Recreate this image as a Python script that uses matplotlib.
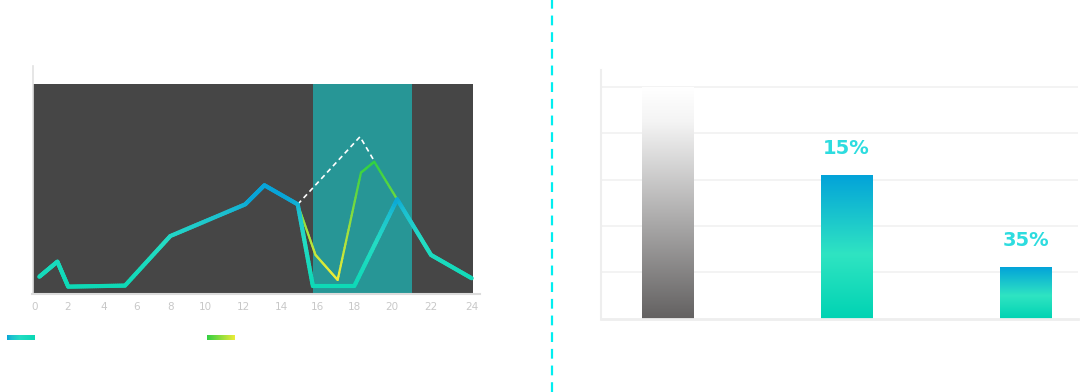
import numpy as np
import matplotlib
matplotlib.use("Agg")
import matplotlib.pyplot as plt
from matplotlib.collections import LineCollection
from matplotlib.colors import LinearSegmentedColormap, Normalize
from matplotlib.patches import Rectangle
from matplotlib.lines import Line2D

# --- left chart data (hours vs. level) ---
main_hours = [0.3, 1.4, 2.05, 5.3, 8.0, 12.1, 13.1, 14.9, 15.75, 18.0, 20.25, 22.0, 24.0]
main_level = [8.2, 15.4, 3.5, 4.0, 27.6, 42.7, 51.8, 42.7, 3.8, 3.8, 45.1, 18.6, 7.5]
alt_hours = [14.9, 15.9, 17.1, 18.35, 19.05, 20.25]
alt_level = [42.7, 18.6, 6.7, 57.8, 63.0, 45.1]
proj_hours = [14.9, 18.3, 19.0]
proj_level = [42.7, 74.9, 64.1]
band_start, band_end = 15.75, 21.0
tick_hours = list(range(0, 25, 2))

# --- right chart data ---
bar_values = [100, 62, 22.4]
bar_labels = ["", "15%", "35%"]

# the hour axis in the source is not evenly spaced, these are its tick spacings
tick_px = [34.3, 67.3, 103.3, 136.7, 170.3, 205.3, 243.3, 281.7, 317.3, 354.3, 392.3, 431.0, 471.7]
scale_h = np.array([-2] + tick_hours + [26], dtype=float)
scale_p = np.array([tick_px[0] - 33] + tick_px + [tick_px[-1] + 40])


def fwd(h):
    return np.interp(h, scale_h, scale_p)


def inv(p):
    return np.interp(p, scale_p, scale_h)


def gradient_line(ax, hours, level, cmap, norm, lw, zorder):
    # split each segment so the colour can follow the height
    xs, ys = [], []
    p = fwd(np.array(hours, dtype=float))
    for i in range(len(p) - 1):
        t = np.linspace(0, 1, 30, endpoint=False)
        xs.extend(p[i] + (p[i + 1] - p[i]) * t)
        ys.extend(level[i] + (level[i + 1] - level[i]) * t)
    xs.append(p[-1])
    ys.append(level[-1])
    xs = inv(np.array(xs))
    ys = np.array(ys)
    pts = np.column_stack([xs, ys]).reshape(-1, 1, 2)
    segs = np.concatenate([pts[:-1], pts[1:]], axis=1)
    mids = (ys[:-1] + ys[1:]) / 2
    lc = LineCollection(segs, colors=cmap(norm(mids)), linewidths=lw,
                        capstyle="round", joinstyle="round", zorder=zorder)
    ax.add_collection(lc)


teal_cmap = LinearSegmentedColormap.from_list(
    "teal", [(0, "#0ad8b4"), (0.55, "#24dcc4"), (0.85, "#1cbfd0"), (1, "#08a4d8")])
lime_cmap = LinearSegmentedColormap.from_list("lime", ["#ecec38", "#33d043"])
bar_cmap = LinearSegmentedColormap.from_list("bar", [(0, "#00d3b3"), (0.45, "#2fe4c2"), (1, "#03a3d9")])
grey_cmap = LinearSegmentedColormap.from_list("grey", [(0, "#636161"), (0.85, "#f4f4f4"), (1, "#ffffff")])

fig = plt.figure(figsize=(10.88, 3.92), dpi=100)
W, H = 1088, 392

# ---------------- left chart ----------------
ax = fig.add_axes([32.5 / W, (H - 294) / H, (480 - 32.5) / W, (294 - 66) / H])
ax.set_xscale("function", functions=(fwd, inv))
x_lo, x_hi = inv(32.5), inv(480)
ax.set_xlim(x_lo, x_hi)
ax.set_ylim(0, 108.6)

ax.add_patch(Rectangle((x_lo, 0), inv(473) - x_lo, 100, facecolor="#464646", edgecolor="none", zorder=0))
ax.add_patch(Rectangle((band_start, 0), band_end - band_start, 100, facecolor="#279696",
                       edgecolor="none", zorder=1))

ax.plot(proj_hours, proj_level, color="white", lw=1.2, ls=(0, (3, 2.2)), zorder=3)
gradient_line(ax, alt_hours, alt_level, lime_cmap, Normalize(8, 62), 1.6, 3)
gradient_line(ax, main_hours, main_level, teal_cmap, Normalize(0, 46), 3.0, 4)

ax.set_xticks(tick_hours)
ax.set_xticklabels([str(h) for h in tick_hours])
ax.set_yticks([])
ax.tick_params(axis="x", length=0, pad=6, labelsize=7.5, labelcolor="#c8c8c8")
for side in ["top", "right"]:
    ax.spines[side].set_visible(False)
ax.spines["left"].set_color("#e2e2e2")
ax.spines["left"].set_linewidth(1.2)
ax.spines["bottom"].set_color("#dcdcdc")
ax.spines["bottom"].set_linewidth(1.5)

# legend swatches under the left chart
grad = np.linspace(0, 1, 128).reshape(1, -1)
for x0, cmap in [(7, teal_cmap.reversed()), (207, lime_cmap.reversed())]:
    sw = fig.add_axes([x0 / W, (H - 340) / H, 28 / W, 5 / H])
    sw.imshow(grad, aspect="auto", cmap=cmap)
    sw.axis("off")

# dashed divider
fig.add_artist(Line2D([552 / W, 552 / W], [0, 1], transform=fig.transFigure,
                      color="#00eef0", lw=1.6, ls=(0, (4.4, 3.1))))

# ---------------- right chart ----------------
bx = fig.add_axes([601 / W, (H - 318.7) / H, (1078 - 601) / W, (318.7 - 70) / H])
bx.set_xlim(-0.37, 2.29)
bx.set_ylim(0, 107.4)
bx.set_axisbelow(True)
bx.yaxis.grid(True, color="#f1f1f1", lw=1.2)
bx.set_yticks([20, 40, 60, 80, 100])
bx.set_xticks([])
bx.tick_params(axis="y", length=0, labelleft=False)
for side in ["top", "right"]:
    bx.spines[side].set_visible(False)
bx.spines["left"].set_color("#eeeeee")
bx.spines["left"].set_linewidth(1.5)
bx.spines["bottom"].set_color("#eeeeee")
bx.spines["bottom"].set_linewidth(2)

vgrad = np.linspace(0, 1, 256).reshape(-1, 1)
bar_w = 0.285
for i, (val, lab) in enumerate(zip(bar_values, bar_labels)):
    cmap = grey_cmap if i == 0 else bar_cmap
    bx.imshow(vgrad, extent=(i - bar_w / 2, i + bar_w / 2, 0, val), origin="lower",
              aspect="auto", cmap=cmap, zorder=2)
    if lab:
        bx.annotate(lab, (i, val), xytext=(0, 19), textcoords="offset points",
                    ha="center", va="center", fontsize=14, fontweight="bold",
                    color="#2ddcdf")
bx.set_xlim(-0.37, 2.29)
bx.set_ylim(0, 107.4)

fig.savefig("out.png", dpi=100)
